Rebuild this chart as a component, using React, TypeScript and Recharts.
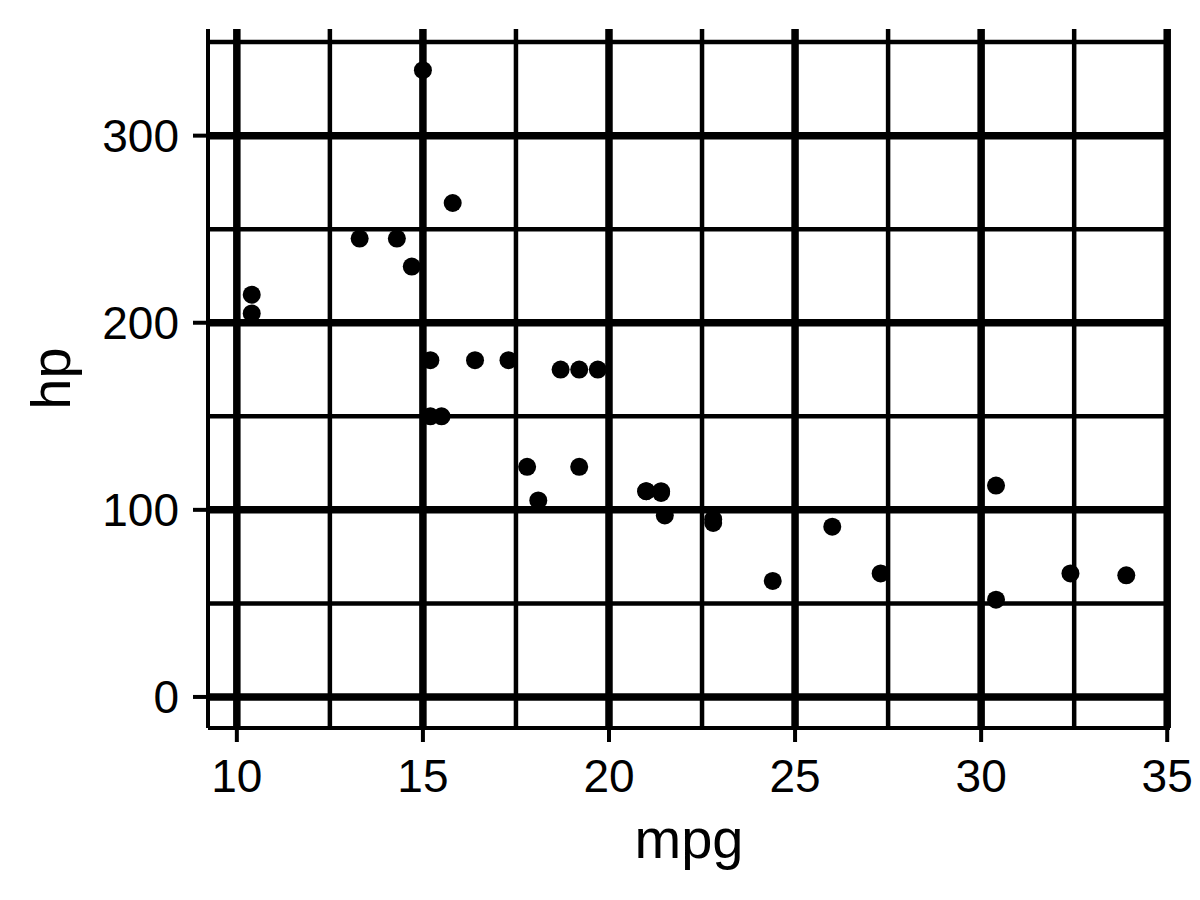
import { ScatterChart, Scatter, XAxis, YAxis, ReferenceLine } from 'recharts';

// mtcars: miles per gallon vs gross horsepower
const mpg = [21.0, 21.0, 22.8, 21.4, 18.7, 18.1, 14.3, 24.4, 22.8, 19.2, 17.8, 16.4, 17.3, 15.2, 10.4, 10.4,
  14.7, 32.4, 30.4, 33.9, 21.5, 15.5, 15.2, 13.3, 19.2, 27.3, 26.0, 30.4, 15.8, 19.7, 15.0, 21.4];
const hp = [110, 110, 93, 110, 175, 105, 245, 62, 95, 123, 123, 180, 180, 180, 205, 215,
  230, 66, 52, 65, 97, 150, 150, 245, 175, 66, 91, 113, 264, 175, 335, 109];

const xMajor = [10, 15, 20, 25, 30, 35];
const xMinor = [12.5, 17.5, 22.5, 27.5, 32.5];
const yMajor = [0, 100, 200, 300];
const yMinor = [50, 150, 250, 350];

const font = '"Liberation Sans", Arial, Helvetica, sans-serif';

const points = mpg.map((m, i) => ({ mpg: m, hp: hp[i] }));

export default function App() {
  const tick = { fill: '#000', fontSize: 46, fontFamily: font };
  const line = { stroke: '#000', strokeWidth: 4 };

  return (
    <div style={{ position: 'absolute', left: 0, top: 0, width: 1200, height: 900, background: '#fff' }}>
      <ScatterChart width={1200} height={900} margin={{ top: 29, right: 30, left: 0, bottom: 0 }}>
        <XAxis
          type="number"
          dataKey="mpg"
          domain={[9.225, 35.075]}
          allowDataOverflow
          ticks={xMajor}
          height={172}
          tick={tick}
          tickSize={14}
          tickMargin={17}
          axisLine={line}
          tickLine={line}
          label={{
            content: (p: any) => {
              const vb = p.viewBox;
              return (
                <text x={vb.x + vb.width / 2} y={858} textAnchor="middle" fontSize={56} fontFamily={font} fill="#000">
                  mpg
                </text>
              );
            },
          }}
        />
        <YAxis
          type="number"
          dataKey="hp"
          domain={[-16.6, 357]}
          allowDataOverflow
          ticks={yMajor}
          width={208}
          tick={tick}
          tickSize={15}
          tickMargin={14}
          axisLine={line}
          tickLine={line}
          label={{
            content: (p: any) => {
              const vb = p.viewBox;
              const cy = vb.y + vb.height / 2;
              return (
                <text x={70} y={cy} transform={`rotate(-90, 70, ${cy})`} textAnchor="middle" fontSize={56} fontFamily={font} fill="#000">
                  hp
                </text>
              );
            },
          }}
        />
        {xMinor.map((v) => (
          <ReferenceLine key={'xm' + v} x={v} stroke="#000" strokeWidth={4.5} />
        ))}
        {yMinor.map((v) => (
          <ReferenceLine key={'ym' + v} y={v} stroke="#000" strokeWidth={4.5} />
        ))}
        {xMajor.map((v) => (
          <ReferenceLine key={'xM' + v} x={v} stroke="#000" strokeWidth={7.5} />
        ))}
        {yMajor.map((v) => (
          <ReferenceLine key={'yM' + v} y={v} stroke="#000" strokeWidth={7.5} />
        ))}
        <Scatter
          data={points}
          fill="#000"
          isAnimationActive={false}
          shape={(p: any) => <circle cx={p.cx} cy={p.cy} r={9} fill="#000" />}
        />
      </ScatterChart>
    </div>
  );
}
